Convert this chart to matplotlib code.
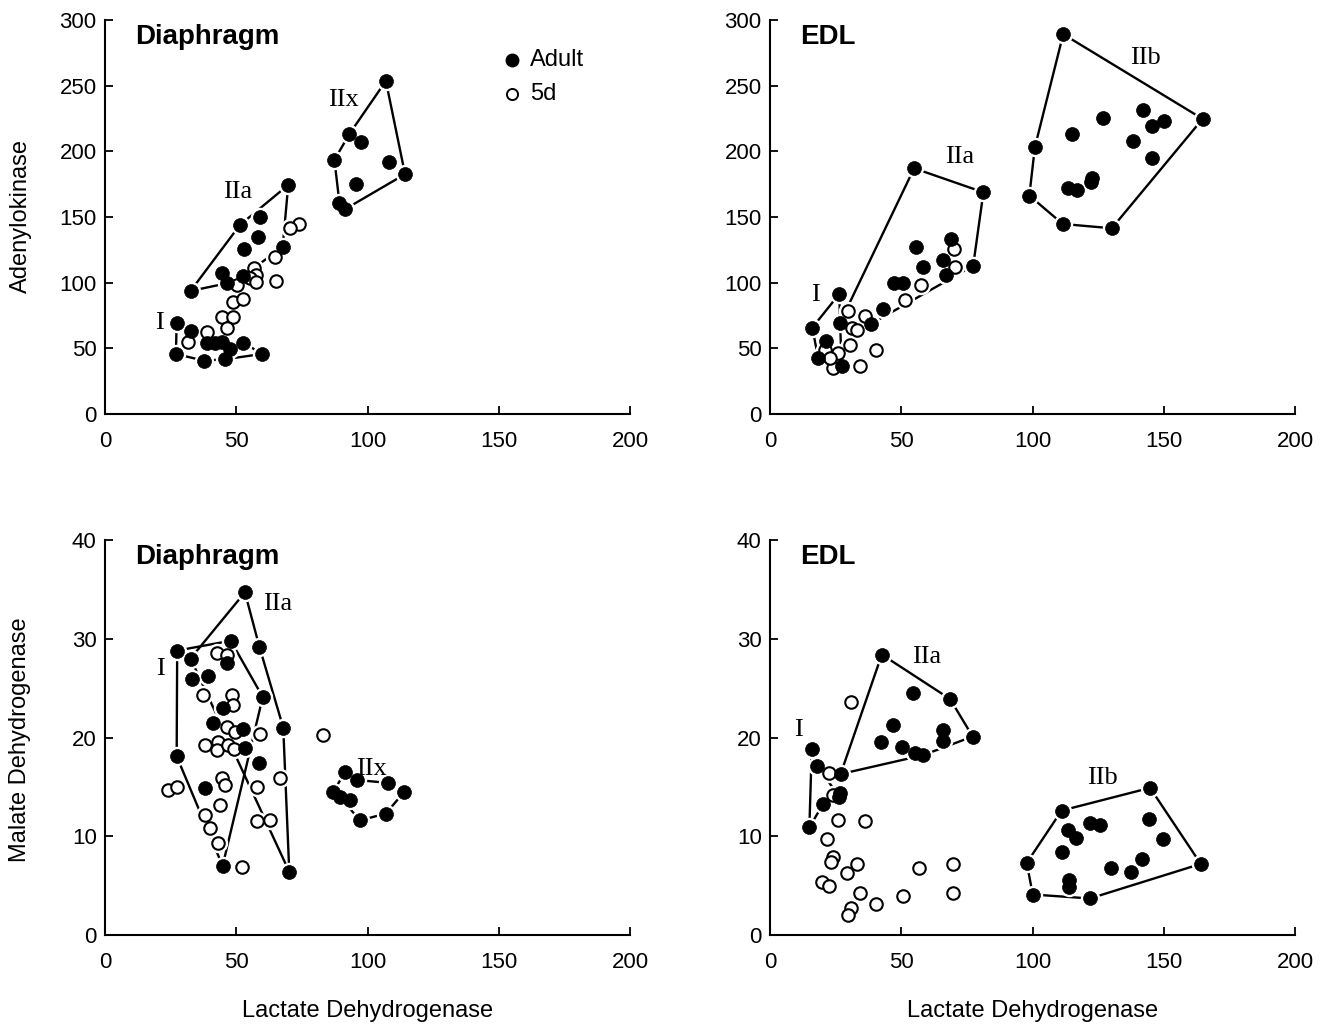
import matplotlib
matplotlib.use("Agg")
import matplotlib.pyplot as plt
import numpy as np

plt.rcParams['font.family'] = ['Liberation Sans', 'DejaVu Sans']

# ---------------- Panel A: Diaphragm, Adenylokinase vs LDH ----------------
a_adult_x = [69.8, 51.4, 59.0, 58.4, 53.0, 67.7, 32.6, 44.4, 46.4, 52.7,
             27.3, 32.6, 38.7, 41.9, 44.4, 47.6, 52.7, 27.0, 37.7, 45.7, 59.9,
             107.0, 93.1, 97.4, 87.4, 108.3, 114.3, 95.6, 89.3, 91.4]
a_adult_y = [174.4, 143.9, 150.3, 134.6, 125.7, 127.4, 93.7, 107.6, 99.5, 105.1,
             69.1, 63.2, 53.8, 54.3, 55.1, 49.3, 54.3, 45.7, 40.6, 41.7, 45.7,
             253.6, 213.2, 207.4, 193.5, 192.2, 182.6, 175.2, 160.9, 155.9]
a_5d_x = [74.0, 70.5, 64.8, 56.8, 57.5, 55.2, 57.5, 65.1, 50.2, 48.6, 52.7,
          44.4, 48.9, 46.6, 39.0, 31.7]
a_5d_y = [144.7, 141.4, 119.3, 111.0, 105.9, 103.6, 100.5, 101.5, 98.2, 85.5, 87.4,
          74.1, 74.1, 65.3, 62.7, 55.1]
# hulls as indices (0-based) into the adult arrays
a_hulls = [[10, 11, 14, 16, 20, 19, 18, 17],
           [6, 1, 0, 5, 9, 8],
           [21, 26, 29, 28, 24, 22]]
a_labels = [("I", 20.6, 69), ("IIa", 50.7, 169), ("IIx", 90.7, 239)]

# ---------------- Panel B: EDL, Adenylokinase vs LDH ----------------
b_adult_x = [54.9, 81.3, 77.4, 69.0, 66.0, 67.0, 55.6, 58.2, 47.2, 50.8,
             43.2, 38.4, 26.4, 26.7, 16.1, 21.3, 18.4, 27.3,
             111.7, 164.8, 100.9, 98.8, 111.5, 130.2, 126.7, 114.9, 142.2,
             145.4, 150.1, 138.4, 145.4, 122.5, 122.2, 113.6, 116.8]
b_adult_y = [187.1, 168.8, 112.9, 133.3, 117.3, 105.9, 127.0, 112.2, 99.5, 99.5,
             79.7, 68.5, 91.4, 69.5, 65.7, 55.6, 42.4, 36.6,
             289.2, 224.7, 203.1, 166.3, 144.7, 141.4, 225.2, 213.0, 231.5,
             219.3, 223.2, 207.9, 194.7, 179.5, 176.7, 171.9, 170.6]
b_5d_x = [70.1, 70.5, 57.4, 51.4, 36.2, 29.8, 31.1, 33.3, 30.5, 40.4, 34.3,
          24.1, 21.0, 26.0, 22.9]
b_5d_y = [125.4, 112.2, 98.2, 86.8, 74.9, 78.4, 65.3, 64.0, 52.6, 48.7, 36.6,
          34.8, 48.7, 46.2, 42.6]
b_hulls = [[14, 12, 13, 17, 16],
           [13, 0, 1, 2, 11],
           [18, 19, 23, 22, 21, 20]]
b_labels = [("I", 17.5, 90.6), ("IIa", 72.4, 195.7), ("IIb", 143.2, 271)]

# ---------------- Panel C: Diaphragm, MDH vs LDH ----------------
c_adult_x = [53.3, 27.5, 32.6, 47.9, 46.6, 58.8, 33.0, 39.4, 60.1, 67.9,
             45.1, 41.3, 52.7, 53.3, 27.3, 58.8, 38.1, 44.8, 70.2,
             91.4, 95.9, 107.9, 114.0, 87.0, 89.5, 93.3, 107.0, 97.1]
c_adult_y = [34.7, 28.8, 28.0, 29.8, 27.5, 29.2, 25.9, 26.2, 24.1, 21.0,
             23.0, 21.5, 20.9, 18.9, 18.1, 17.4, 14.9, 7.0, 6.4,
             16.5, 15.7, 15.4, 14.5, 14.5, 14.0, 13.7, 12.3, 11.6]
c_5d_x = [42.5, 46.6, 37.4, 48.2, 48.9, 59.0, 43.0, 38.1, 42.5, 46.9, 49.1,
          44.4, 45.7, 57.8, 66.7, 43.8, 38.1, 40.0, 43.2, 57.8, 62.9, 52.1,
          24.1, 27.3, 82.9, 46.4, 49.5]
c_5d_y = [28.6, 28.4, 24.3, 24.3, 23.3, 20.4, 19.5, 19.2, 18.7, 19.2, 18.8,
          15.9, 15.2, 15.0, 15.9, 13.2, 12.2, 10.8, 9.3, 11.5, 11.6, 6.9,
          14.7, 15.0, 20.3, 21.1, 20.6]
c_hulls = [[1, 3, 8, 17, 14],
           [2, 0, 5, 9, 18],
           [19, 20, 21, 22, 26, 27, 24, 23]]
c_labels = [("I", 21.3, 26.9), ("IIa", 65.9, 33.5), ("IIx", 101.7, 16.8)]

# ---------------- Panel D: EDL, MDH vs LDH ----------------
d_adult_x = [42.6, 68.6, 77.2, 54.4, 47.0, 42.2, 50.2, 55.2, 58.2, 66.0, 66.0,
             15.9, 18.0, 26.9, 26.4, 26.7, 20.3, 15.0,
             144.8, 111.1, 164.1, 121.9, 100.1, 97.8, 113.6, 116.6, 121.9, 125.7,
             111.1, 144.5, 149.6, 141.6, 137.4, 129.8, 114.0, 114.0]
d_adult_y = [28.4, 23.9, 20.1, 24.5, 21.3, 19.5, 19.0, 18.4, 18.2, 20.8, 19.6,
             18.8, 17.1, 16.3, 14.0, 14.4, 13.3, 10.9,
             14.9, 12.6, 7.2, 3.7, 4.1, 7.3, 10.6, 9.8, 11.3, 11.1,
             8.4, 11.7, 9.7, 7.7, 6.4, 6.8, 5.6, 4.9]
d_5d_x = [30.9, 22.6, 24.1, 26.0, 36.2, 21.6, 24.1, 23.1, 33.0, 29.2, 19.7,
          22.6, 34.3, 40.4, 50.8, 56.9, 69.6, 69.6, 30.7, 29.8]
d_5d_y = [23.6, 16.4, 14.2, 11.6, 11.5, 9.7, 7.9, 7.4, 7.2, 6.3, 5.4,
          5.0, 4.3, 3.1, 4.0, 6.8, 7.2, 4.3, 2.7, 2.0]
d_hulls = [[11, 12, 14, 16, 17],
           [13, 0, 1, 2, 8],
           [18, 20, 21, 22, 23, 19]]
d_labels = [("I", 11.0, 20.8), ("IIa", 59.8, 28.2), ("IIb", 126.5, 15.9)]

titles = ["Diaphragm", "EDL", "Diaphragm", "EDL"]
x_ticks = [0, 50, 100, 150, 200]
ak_ticks = [0, 50, 100, 150, 200, 250, 300]
mdh_ticks = [0, 10, 20, 30, 40]

fig = plt.figure(figsize=(13.31, 10.25), dpi=100)
W, H = 1331.0, 1025.0
rects = [(105, 20, 630, 414), (770, 20, 1295, 414),
         (105, 540, 630, 935), (770, 540, 1295, 935)]
axes = []
for (l, t, r, b) in rects:
    axes.append(fig.add_axes([l / W, 1 - b / H, (r - l) / W, (b - t) / H]))

panels = [
    (a_adult_x, a_adult_y, a_5d_x, a_5d_y, a_hulls, a_labels, ak_ticks, 300),
    (b_adult_x, b_adult_y, b_5d_x, b_5d_y, b_hulls, b_labels, ak_ticks, 300),
    (c_adult_x, c_adult_y, c_5d_x, c_5d_y, c_hulls, c_labels, mdh_ticks, 40),
    (d_adult_x, d_adult_y, d_5d_x, d_5d_y, d_hulls, d_labels, mdh_ticks, 40),
]

for i, (ax, p) in enumerate(zip(axes, panels)):
    ax_x, ax_y, f_x, f_y, hulls, labels, yticks, ymax = p
    ax_x = np.array(ax_x); ax_y = np.array(ax_y)
    for h in hulls:
        idx = h + [h[0]]
        ax.plot(ax_x[idx], ax_y[idx], color='black', lw=1.7, zorder=2,
                solid_capstyle='butt')
    # white halos so lines stop short of the markers
    allx = np.concatenate([ax_x, f_x]); ally = np.concatenate([ax_y, f_y])
    ax.plot(allx, ally, 'o', ms=14, color='white', mec='none', zorder=3)
    ax.plot(f_x, f_y, 'o', ms=9, mfc='white', mec='black', mew=1.5, zorder=4)
    ax.plot(ax_x, ax_y, 'o', ms=10, mfc='black', mec='black', mew=0.5, zorder=5)
    for (txt, lx, ly) in labels:
        ax.text(lx, ly, txt, family='Liberation Serif', fontsize=19,
                ha='center', va='center', zorder=6)
    ax.set_xlim(0, 200)
    ax.set_ylim(0, ymax)
    ax.set_xticks(x_ticks)
    ax.set_yticks(yticks)
    for s in ['top', 'right']:
        ax.spines[s].set_visible(False)
    for s in ['left', 'bottom']:
        ax.spines[s].set_linewidth(1.5)
    ax.tick_params(direction='in', length=6, width=1.3, labelsize=16)
    ax.tick_params(axis='x', pad=12)
    ax.tick_params(axis='y', pad=6)
    ax.text(0.057, 0.957, titles[i], transform=ax.transAxes, fontsize=20,
            fontweight='bold', ha='left', va='center')
    ax.set_facecolor('none')

axes[0].set_ylabel("Adenylokinase", fontsize=17)
axes[0].yaxis.set_label_coords(-0.14, 0.503)
axes[2].set_ylabel("Malate Dehydrogenase", fontsize=17)
axes[2].yaxis.set_label_coords(-0.14, 0.494)
for k in (2, 3):
    axes[k].set_xlabel("Lactate Dehydrogenase", fontsize=17)
    axes[k].xaxis.set_label_coords(0.501, -0.165)

# legend in panel A
ax = axes[0]
ax.plot([0.775], [0.898], 'o', ms=9, color='black', transform=ax.transAxes,
        clip_on=False)
ax.plot([0.775], [0.812], 'o', ms=8, mfc='white', mec='black', mew=1.4,
        transform=ax.transAxes, clip_on=False)
ax.text(0.81, 0.898, "Adult", transform=ax.transAxes, fontsize=17,
        ha='left', va='center')
ax.text(0.81, 0.812, "5d", transform=ax.transAxes, fontsize=17,
        ha='left', va='center')

fig.savefig("out.png", dpi=100, facecolor='white')
